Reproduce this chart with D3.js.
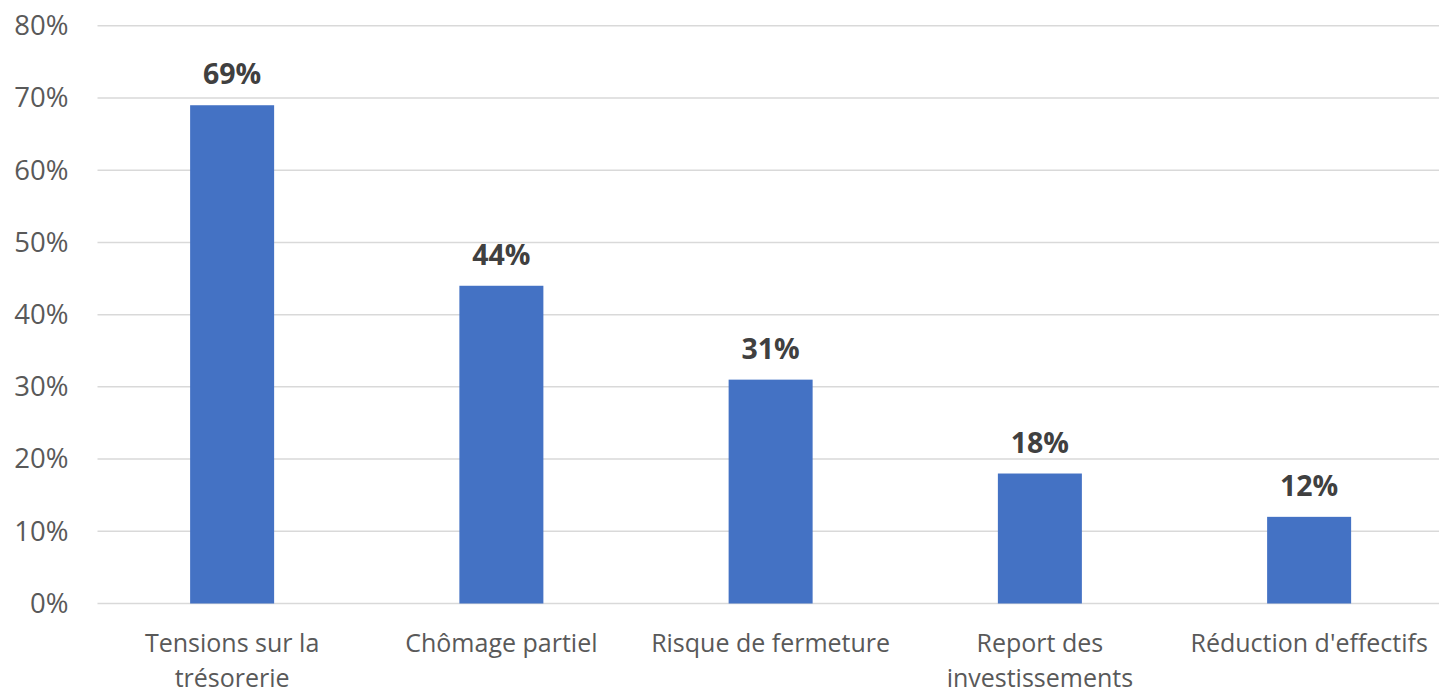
<!DOCTYPE html>
<html>
<head>
<meta charset="utf-8">
<script src="https://cdn.jsdelivr.net/npm/d3@7"></script>
<style>
  body { margin: 0; background: #fff; }
  svg { display: block; font-family: "Open Sans", sans-serif; }
</style>
</head>
<body>
<svg width="1439" height="691"></svg>
<script>
const categories = ["Tensions sur la\ntrésorerie", "Chômage partiel", "Risque de fermeture", "Report des\ninvestissements", "Réduction d'effectifs"];
const values = [0.69, 0.44, 0.31, 0.18, 0.12];
const yTicks = [0, 0.1, 0.2, 0.3, 0.4, 0.5, 0.6, 0.7, 0.8];

const svg = d3.select("svg");
const area = { left: 97.5, right: 1443.75, top: 25.8, bottom: 603.5 };

const scX = d3.scaleBand()
    .domain(categories)
    .range([area.left, area.right])
    .paddingInner(0.688)
    .paddingOuter(0.344);

const scY = d3.scaleLinear()
    .domain([0, 0.8])
    .range([area.bottom, area.top]);

// gridlines
svg.append("g")
    .selectAll("line")
    .data(yTicks)
    .enter()
    .append("line")
    .attr("x1", area.left)
    .attr("x2", area.right)
    .attr("y1", d => scY(d))
    .attr("y2", d => scY(d))
    .attr("stroke", "#d9d9d9")
    .attr("stroke-width", 1.5);

// y axis labels
const axisY = d3.axisLeft(scY)
    .tickValues(yTicks)
    .tickFormat(d3.format(".0%"))
    .tickSize(0)
    .tickPadding(29);

const gy = svg.append("g")
    .attr("transform", `translate(${area.left}, 0)`)
    .call(axisY);
gy.select(".domain").remove();
gy.selectAll("text")
    .attr("fill", "#595959")
    .style("font-size", "27.5px")
    .style("font-family", "Open Sans, sans-serif");

// bars
svg.selectAll(".bar")
    .data(values)
    .enter()
    .append("rect")
    .attr("class", "bar")
    .attr("x", (d, i) => scX(categories[i]))
    .attr("y", d => scY(d))
    .attr("width", scX.bandwidth())
    .attr("height", d => area.bottom - scY(d))
    .attr("fill", "#4472c4");

// value labels
svg.selectAll(".val")
    .data(values)
    .enter()
    .append("text")
    .attr("class", "val")
    .attr("x", (d, i) => scX(categories[i]) + scX.bandwidth() / 2)
    .attr("y", d => scY(d) - 21)
    .attr("text-anchor", "middle")
    .attr("fill", "#404040")
    .style("font-size", "28.5px")
    .style("font-weight", "bold")
    .text(d => d3.format(".0%")(d));

// category labels
const cat = svg.selectAll(".cat")
    .data(categories)
    .enter()
    .append("text")
    .attr("class", "cat")
    .attr("text-anchor", "middle")
    .attr("fill", "#595959")
    .style("font-size", "25px")
    .attr("transform", d => `translate(${scX(d) + scX.bandwidth() / 2}, 652)`);

cat.selectAll("tspan")
    .data(d => d.split("\n"))
    .enter()
    .append("tspan")
    .attr("x", 0)
    .attr("dy", (d, i) => i === 0 ? 0 : 35)
    .text(d => d);
</script>
</body>
</html>
